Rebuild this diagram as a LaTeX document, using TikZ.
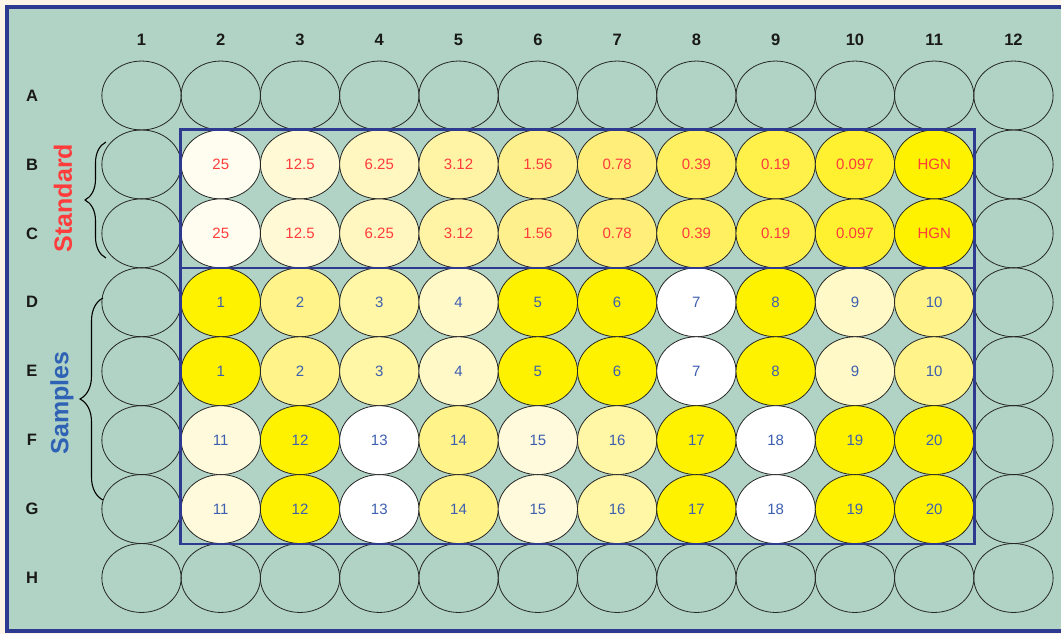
\documentclass[tikz,border=0pt]{standalone}
\usepackage{fontspec}
\setmainfont{Liberation Sans}
\usetikzlibrary{shapes.geometric,decorations.pathreplacing,calc}
\definecolor{bgsage}{HTML}{B0D3C5}
\definecolor{cream}{HTML}{FDF6E8}
\definecolor{frameblue}{HTML}{2E3A8F}
\definecolor{stdred}{HTML}{FF3C3C}
\definecolor{smpblue}{HTML}{3D5FB0}
\definecolor{lblblue}{HTML}{2F62B5}
\definecolor{Sa}{HTML}{FFFDEF}
\definecolor{Sb}{HTML}{FFFAD5}
\definecolor{Sc}{HTML}{FFF7BF}
\definecolor{Sd}{HTML}{FFF3A6}
\definecolor{Se}{HTML}{FFF08E}
\definecolor{Sf}{HTML}{FFEF7A}
\definecolor{Sg}{HTML}{FFF062}
\definecolor{Sh}{HTML}{FFF04A}
\definecolor{Si}{HTML}{FFF130}
\definecolor{Yf}{HTML}{FFF200}
\definecolor{Ym}{HTML}{FFF38A}
\definecolor{Yl}{HTML}{FFF6A6}
\definecolor{Yc}{HTML}{FFF9C8}
\definecolor{Yv}{HTML}{FFFADC}
\definecolor{Wh}{HTML}{FFFFFF}
\begin{document}
\begin{tikzpicture}[x=1pt,y=-1pt,
  well/.style={ellipse, draw=black!85, line width=0.8pt, minimum width=79.3pt,
    minimum height=68.9pt, inner sep=0pt, font=\fontsize{15}{15}\selectfont},
  stdwell/.style={well, text=stdred},
  smpwell/.style={well, text=smpblue},
  lab/.style={font=\bfseries\fontsize{16.5}{16.5}\selectfont, text=black!90},
  sidelab/.style={rotate=90, font=\bfseries\fontsize{25}{25}\selectfont},
  platebox/.style={draw=frameblue, line width=2.5pt},
  bracestyle/.style={draw=black, line width=1.1pt, decorate,
    decoration={brace, amplitude=#1}}
]
\useasboundingbox (0,0) rectangle (1061,634);
\clip (0,0) rectangle (1061,634);
\fill[cream] (0,0) rectangle (1061,634);
\filldraw[fill=bgsage, draw=frameblue, line width=4pt] (6.5,7.2) rectangle (1080,631);

% column and row labels
\foreach \c in {1,...,12}
  \node[lab] (col\c) at ({141.5+(\c-1)*79.27},40) {\c};
\foreach \r [count=\j] in {A,B,C,D,E,F,G,H}
  \node[lab] (row\r) at (32,{95.5+(\j-1)*68.93}) {\r};

% empty wells
\foreach \r/\j in {A/1,H/8}
  \foreach \c in {1,...,12}
    \node[well] (w\r\c) at ({141.5+(\c-1)*79.27},{95.5+(\j-1)*68.93}) {};
\foreach \r/\j in {B/2,C/3,D/4,E/5,F/6,G/7}
  \foreach \c in {1,12}
    \node[well] (w\r\c) at ({141.5+(\c-1)*79.27},{95.5+(\j-1)*68.93}) {};

% standard wells
\foreach \r/\j in {B/2,C/3}
  \foreach \c/\t/\f in {2/25/Sa,3/12.5/Sb,4/6.25/Sc,5/3.12/Sd,6/1.56/Se,
      7/0.78/Sf,8/0.39/Sg,9/0.19/Sh,10/0.097/Si,11/HGN/Yf}
    \node[stdwell, fill=\f] (w\r\c) at ({141.5+(\c-1)*79.27},{95.5+(\j-1)*68.93}) {\t};

% sample wells
\foreach \r/\j in {D/4,E/5}
  \foreach \c/\t/\f in {2/1/Yf,3/2/Ym,4/3/Yl,5/4/Yc,6/5/Yf,
      7/6/Yf,8/7/Wh,9/8/Yf,10/9/Yc,11/10/Ym}
    \node[smpwell, fill=\f] (w\r\c) at ({141.5+(\c-1)*79.27},{95.5+(\j-1)*68.93}) {\t};
\foreach \r/\j in {F/6,G/7}
  \foreach \c/\t/\f in {2/11/Yv,3/12/Yf,4/13/Wh,5/14/Ym,6/15/Yv,
      7/16/Yl,8/17/Yf,9/18/Wh,10/19/Yf,11/20/Yf}
    \node[smpwell, fill=\f] (w\r\c) at ({141.5+(\c-1)*79.27},{95.5+(\j-1)*68.93}) {\t};

% plate boxes
\draw[platebox] (wB2.west |- wB2.north) rectangle (wG11.east |- wG11.south);
\draw[platebox] (wC2.west |- wC2.south) -- (wC11.east |- wC11.south);

% side labels and braces
\node[sidelab, text=stdred] (stdlab) at (63,198) {Standard};
\node[sidelab, text=lblblue] (smplab) at (62,403) {Samples};
\coordinate (stdbot) at (106,258);
\coordinate (stdtop) at (106,142);
\coordinate (smpbot) at (103,500);
\coordinate (smptop) at (103,298);
\draw[bracestyle=21pt] (stdbot) -- (stdtop);
\draw[bracestyle=23pt] (smpbot) -- (smptop);
\end{tikzpicture}
\end{document}
